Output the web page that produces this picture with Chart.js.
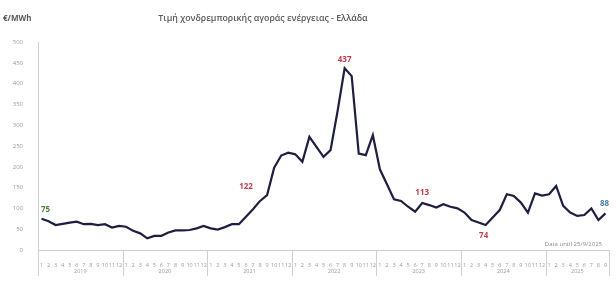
<!DOCTYPE html>
<html lang="el">
<head>
  <meta charset="UTF-8" />
  <title>Τιμή χονδρεμπορικής αγοράς ενέργειας - Ελλάδα</title>
  <style>
  body { margin: 0; padding: 0; background: #ffffff; }
  .wrap { width: 616px; height: 290px; position: relative; }
  </style>
  <script src="https://cdn.jsdelivr.net/npm/chart.js"></script>
</head>
<body>
  <div class="wrap"><canvas id="priceChart" width="616" height="290"></canvas></div>

  <script>
  // years shown on the axis and how many months each one has
  const years = ['2019', '2020', '2021', '2022', '2023', '2024', '2025'];
  const monthsPerYear = [12, 12, 12, 12, 12, 12, 9];

  // monthly wholesale price, €/MWh
  const prices = [
    75, 69, 60, 63, 66, 68, 62, 63, 60, 62, 54, 58,          // 2019
    56, 46, 40, 28, 34, 34, 42, 47, 47, 48, 52, 58,          // 2020
    52, 49, 55, 62, 62, 80, 98, 118, 132, 198, 227, 234,     // 2021
    230, 212, 272, 248, 224, 240, 334, 437, 418, 232, 228, 276, // 2022
    194, 158, 122, 118, 104, 92, 113, 108, 102, 110, 104, 100,  // 2023
    90, 72, 66, 60, 78, 96, 134, 130, 114, 90, 136, 131,     // 2024
    134, 154, 106, 90, 82, 84, 100, 72, 88                   // 2025
  ];

  // highlighted values: month index, text, colour
  const noteIndex = [0, 31, 43, 54, 63, 80];
  const noteText = ['75', '122', '437', '113', '74', '88'];
  const noteColor = ['#4f7f3a', '#c23b4b', '#c23b4b', '#c23b4b', '#c23b4b', '#4a7ea0'];

  // month numbers for the tick labels
  const monthLabels = [];
  monthsPerYear.forEach(n => {
    for (let m = 1; m <= n; m++) monthLabels.push(String(m));
  });

  const FONT = '"Open Sans", "DejaVu Sans", sans-serif';

  // title, unit, year groups, notes
  const decorPlugin = {
    id: 'decor',
    afterDraw(chart) {
      const ctx = chart.ctx;
      const x = chart.scales.x;
      const y = chart.scales.y;
      const bottom = chart.chartArea.bottom;
      const half = (x.getPixelForValue(1) - x.getPixelForValue(0)) / 2;

      ctx.save();
      // title
      ctx.fillStyle = '#595959';
      ctx.font = '600 8.8px ' + FONT;
      ctx.textAlign = 'center';
      ctx.textBaseline = 'middle';
      ctx.fillText('Τιμή χονδρεμπορικής αγοράς ενέργειας - Ελλάδα', 263, 18);

      // unit
      ctx.font = 'bold 8px ' + FONT;
      ctx.textAlign = 'left';
      ctx.fillText('€/MWh', 3, 19);

      // year separators and labels
      ctx.strokeStyle = '#cfcfcf';
      ctx.lineWidth = 1;
      ctx.fillStyle = '#9a9a9a';
      ctx.font = '5.5px ' + FONT;
      ctx.textAlign = 'center';
      let start = 0;
      years.forEach((yr, k) => {
        const n = monthsPerYear[k];
        const left = x.getPixelForValue(start) - half;
        const right = x.getPixelForValue(start + n - 1) + half;
        [left, right].forEach(px => {
          ctx.beginPath();
          ctx.moveTo(Math.round(px) + 0.5, bottom);
          ctx.lineTo(Math.round(px) + 0.5, bottom + 26);
          ctx.stroke();
        });
        ctx.fillText(yr, (left + right) / 2, bottom + 21);
        start += n;
      });

      // data note
      ctx.textAlign = 'right';
      ctx.font = '6px ' + FONT;
      ctx.fillStyle = '#8a8a8a';
      ctx.fillText('Data until 25/9/2025', 602, 244);

      // value notes
      const offsets = [[4, -9], [-14, -14], [0, -8], [0, -10], [-2, 11], [-1, -10]];
      ctx.textAlign = 'center';
      noteIndex.forEach((idx, k) => {
        const px = x.getPixelForValue(idx);
        const py = y.getPixelForValue(prices[idx]);
        ctx.fillStyle = noteColor[k];
        ctx.font = 'bold 8px ' + FONT;
        ctx.fillText(noteText[k], px + offsets[k][0], py + offsets[k][1]);
      });
      ctx.restore();
    }
  };

  new Chart(document.getElementById('priceChart').getContext('2d'), {
    type: 'line',
    data: {
      labels: monthLabels,
      datasets: [{
        data: prices,
        borderColor: '#1e1f40',
        borderWidth: 2.2,
        pointRadius: 0,
        tension: 0,
        fill: false
      }]
    },
    options: {
      responsive: false,
      animation: false,
      layout: { padding: { top: 42, right: 7, left: 0, bottom: 0 } },
      plugins: {
        legend: { display: false },
        tooltip: { enabled: false }
      },
      scales: {
        x: {
          offset: true,
          afterFit(scale) { scale.height = 40; },
          grid: { display: false },
          border: { display: true, color: '#d0d0d0' },
          ticks: {
            autoSkip: false,
            maxRotation: 0,
            padding: 4,
            color: '#9a9a9a',
            font: { size: 5.5, family: FONT }
          }
        },
        y: {
          min: 0,
          max: 500,
          afterFit(scale) { scale.width = 38; },
          grid: { display: false },
          border: { display: true, color: '#d0d0d0' },
          ticks: {
            stepSize: 50,
            padding: 7,
            color: '#9a9a9a',
            font: { size: 6, family: FONT }
          }
        }
      }
    },
    plugins: [decorPlugin]
  });
  </script>
</body>
</html>
